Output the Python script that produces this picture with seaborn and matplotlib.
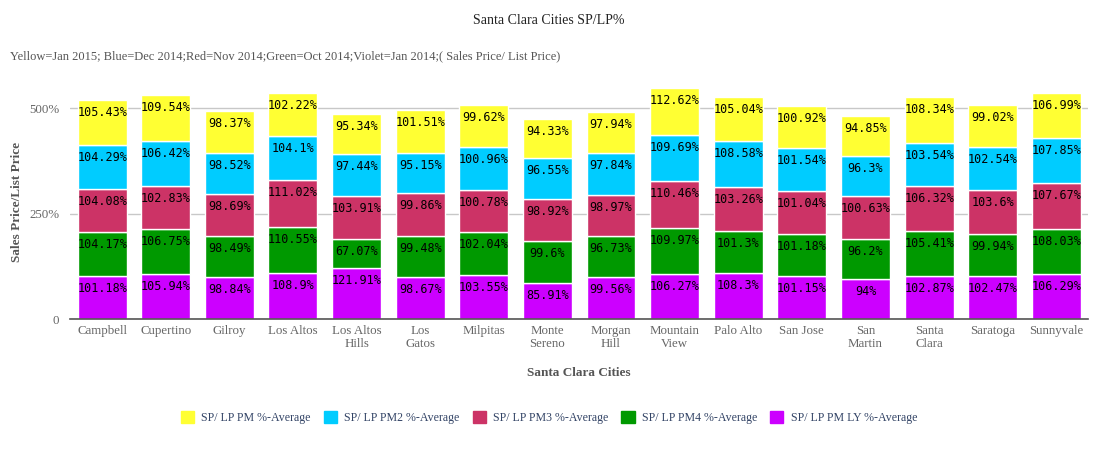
import matplotlib
matplotlib.use("Agg")
import matplotlib.pyplot as plt
from matplotlib.patches import Patch
from matplotlib.ticker import FixedLocator, FuncFormatter
import numpy as np
import seaborn as sns

cities = ["Campbell", "Cupertino", "Gilroy", "Los Altos", "Los Altos\nHills", "Los\nGatos",
          "Milpitas", "Monte\nSereno", "Morgan\nHill", "Mountain\nView", "Palo Alto",
          "San Jose", "San\nMartin", "Santa\nClara", "Saratoga", "Sunnyvale"]

pm_ly = [101.18, 105.94, 98.84, 108.9, 121.91, 98.67, 103.55, 85.91, 99.56, 106.27,
         108.3, 101.15, 94, 102.87, 102.47, 106.29]
pm4 = [104.17, 106.75, 98.49, 110.55, 67.07, 99.48, 102.04, 99.6, 96.73, 109.97,
       101.3, 101.18, 96.2, 105.41, 99.94, 108.03]
pm3 = [104.08, 102.83, 98.69, 111.02, 103.91, 99.86, 100.78, 98.92, 98.97, 110.46,
       103.26, 101.04, 100.63, 106.32, 103.6, 107.67]
pm2 = [104.29, 106.42, 98.52, 104.1, 97.44, 95.15, 100.96, 96.55, 97.84, 109.69,
       108.58, 101.54, 96.3, 103.54, 102.54, 107.85]
pm = [105.43, 109.54, 98.37, 102.22, 95.34, 101.51, 99.62, 94.33, 97.94, 112.62,
      105.04, 100.92, 94.85, 108.34, 99.02, 106.99]

# bottom to top
layers = [
    ("SP/ LP PM LY %-Average", pm_ly, "#CC00FF"),
    ("SP/ LP PM4 %-Average", pm4, "#009900"),
    ("SP/ LP PM3 %-Average", pm3, "#CC3366"),
    ("SP/ LP PM2 %-Average", pm2, "#00CCFF"),
    ("SP/ LP PM %-Average", pm, "#FFFF33"),
]

sns.set_style("white")
plt.rcParams['font.family'] = ['Liberation Serif', 'DejaVu Serif']

fig = plt.figure(figsize=(10.98, 4.5), dpi=100)
ax = fig.add_axes([0.064, 0.291, 0.927, 0.52])

bottom = np.zeros(len(cities))
for name, vals, color in layers:
    sns.barplot(x=cities, y=vals, bottom=bottom, color=color, width=0.77,
                edgecolor="white", linewidth=1, saturation=1, ax=ax)
    for i, v in enumerate(vals):
        ax.annotate(f"{v:g}%", (i, bottom[i] + v), xytext=(0, -9),
                    textcoords="offset points", ha="center", va="center",
                    fontsize=8.5, family="DejaVu Sans Mono", color="black")
    bottom = bottom + np.array(vals)

ax.set_xlim(-0.5, len(cities) - 0.5)
ax.set_ylim(0, 555)
ax.yaxis.set_major_locator(FixedLocator([0, 250, 500]))
ax.yaxis.set_major_formatter(FuncFormatter(lambda v, p: "0" if v == 0 else f"{v:g}%"))
ax.grid(axis="y", color="#c8c8c8", linewidth=1)
ax.set_axisbelow(True)
for s in ["top", "right", "left"]:
    ax.spines[s].set_visible(False)
ax.spines["bottom"].set_color("#555555")
ax.spines["bottom"].set_linewidth(1.2)

ax.tick_params(axis="x", which="major", length=0, labelsize=9.3, colors="#666666", pad=4)
ax.set_xticks(np.arange(-0.5, len(cities)), minor=True)
ax.tick_params(axis="x", which="minor", length=5, color="#b8c8d8")
ax.tick_params(axis="y", length=6, color="#c8c8c8", labelsize=9.3, labelcolor="#666666", pad=2)

ax.set_xlabel("Santa Clara Cities", fontsize=9.5, fontweight="bold", color="#555555", labelpad=12)
ax.set_ylabel("Sales Price/List Price", fontsize=9.5, fontweight="bold", color="#555555", labelpad=4)

fig.text(0.5, 0.955, "Santa Clara Cities SP/LP%", ha="center", va="center", fontsize=10, color="#222222")
fig.text(0.009, 0.875, "Yellow=Jan 2015; Blue=Dec 2014;Red=Nov 2014;Green=Oct 2014;Violet=Jan 2014;( Sales Price/ List Price)",
         ha="left", va="center", fontsize=9, color="#555555")

handles = [Patch(facecolor=c, edgecolor=c, label=n) for n, _, c in reversed(layers)]
fig.legend(handles=handles, loc="center", bbox_to_anchor=(0.5, 0.072), ncol=5, frameon=False,
           fontsize=8.6, labelcolor="#334466", handlelength=1.1, handleheight=1.1,
           handletextpad=0.6, columnspacing=1.1)

fig.savefig("out.png", dpi=100)
